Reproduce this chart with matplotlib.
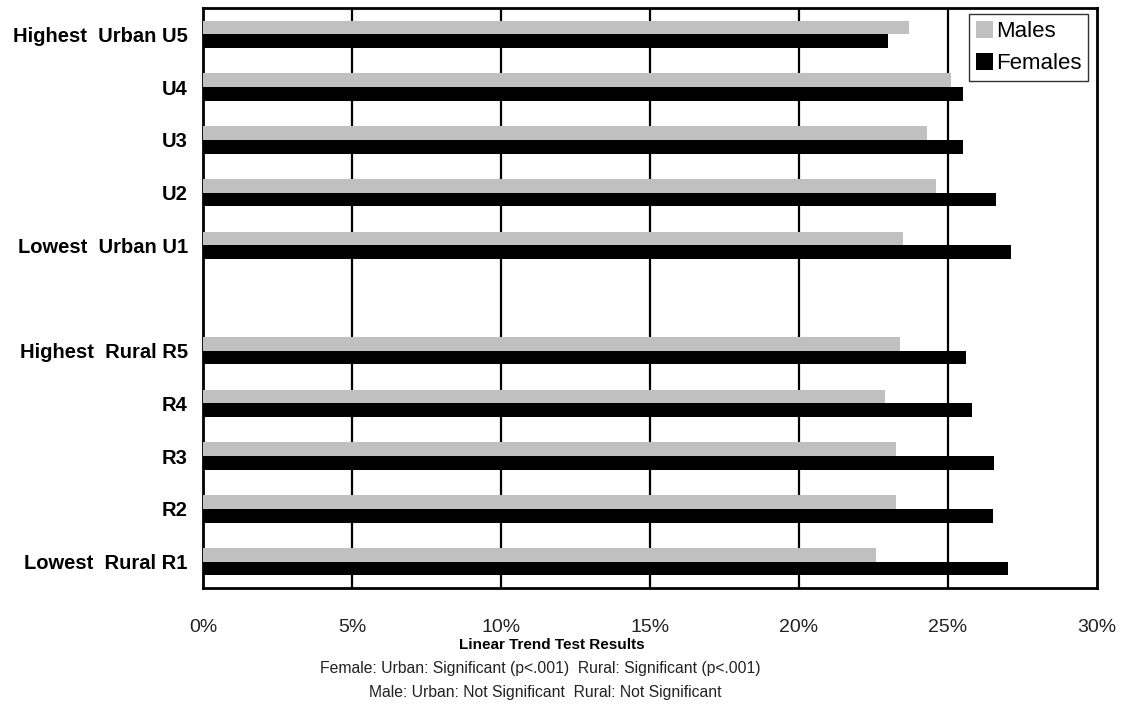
import numpy as np
import matplotlib
matplotlib.use("Agg")
import matplotlib.pyplot as plt

plt.rcParams['font.family'] = ['Liberation Sans', 'DejaVu Sans']

# categories top to bottom, '' marks the blank slot between urban and rural
categories = ["Highest  Urban U5", "U4", "U3", "U2", "Lowest  Urban U1", "",
              "Highest  Rural R5", "R4", "R3", "R2", "Lowest  Rural R1"]
males = [23.7, 25.1, 24.3, 24.6, 23.5, np.nan, 23.4, 22.9, 23.25, 23.25, 22.6]
females = [23.0, 25.5, 25.5, 26.6, 27.1, np.nan, 25.6, 25.8, 26.55, 26.5, 27.0]
xticks = [0, 5, 10, 15, 20, 25, 30]
xtick_labels = ["0%", "5%", "10%", "15%", "20%", "25%", "30%"]

fig = plt.figure(figsize=(11.23, 7.06), dpi=100)
ax = fig.add_axes([0.1808, 0.1671, 0.7960, 0.8216])

y = np.arange(len(categories))
h = 0.26
ax.barh(y - h / 2, males, height=h, color='#c0c0c0', label='Males', zorder=3)
ax.barh(y + h / 2, females, height=h, color='black', label='Females', zorder=3)

ax.set_xlim(0, 30)
ax.set_ylim(len(categories) - 0.5, -0.5)
ax.set_xticks(xticks)
ax.set_xticklabels(xtick_labels, fontsize=14, color='#222222')
ax.set_yticks(y)
ax.set_yticklabels(categories, fontsize=14.5, fontweight='bold')
ax.tick_params(axis='x', length=0, pad=22)
ax.tick_params(axis='y', length=0, pad=11)

for xv in xticks[1:-1]:
    ax.axvline(xv, color='black', linewidth=1.6, zorder=1)

for sp in ax.spines.values():
    sp.set_linewidth(2)
    sp.set_color('black')

leg = ax.legend(loc='upper right', bbox_to_anchor=(0.9955, 0.997), fontsize=16,
                frameon=True, fancybox=False, handlelength=0.75, handleheight=0.75,
                handletextpad=0.15, borderpad=0.32, labelspacing=0.5,
                borderaxespad=0.2)
leg.get_frame().set_edgecolor('black')
leg.get_frame().set_linewidth(1.0)

fig.text(0.491, 0.0865, "Linear Trend Test Results", ha='center', va='center',
         fontsize=11, fontweight='bold')
fig.text(0.4813, 0.0535, "Female: Urban: Significant (p<.001)  Rural: Significant (p<.001)",
         ha='center', va='center', fontsize=11.3, color='#222222')
fig.text(0.4853, 0.0185, "Male: Urban: Not Significant  Rural: Not Significant",
         ha='center', va='center', fontsize=11.3, color='#222222')

fig.savefig("out.png", dpi=100)
